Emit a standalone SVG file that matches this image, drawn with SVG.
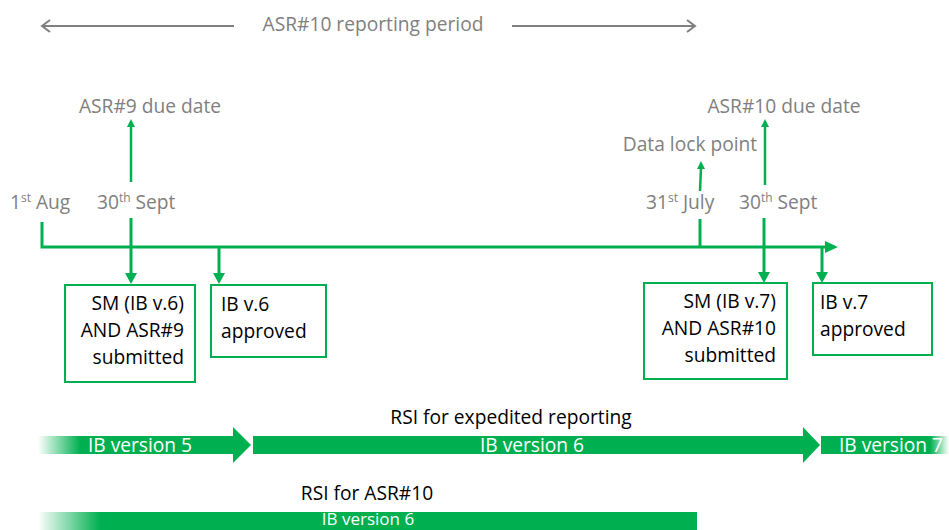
<svg xmlns="http://www.w3.org/2000/svg" width="949" height="530" viewBox="0 0 949 530">
<defs>
<style>
.g{font-family:"Open Sans","Liberation Sans",sans-serif;font-size:19.2px;fill:#808080}
.k{font-family:"Open Sans","Liberation Sans",sans-serif;font-size:19.2px;fill:#000}
.w{font-family:"Open Sans","Liberation Sans",sans-serif;font-size:19.2px;fill:#fff}
.sup{font-size:12px}
.ln{stroke:#00b050;stroke-width:3;fill:none}
.ln2{stroke:#00b050;stroke-width:2.5;fill:none}
.box{fill:#fff;stroke:#00b050;stroke-width:2}
.ah{fill:#00b050}
.gr{stroke:#808080;stroke-width:2;fill:none}
</style>
<linearGradient id="fadeIn1" gradientUnits="userSpaceOnUse" x1="38" y1="0" x2="80" y2="0">
<stop offset="0" stop-color="#00b050" stop-opacity="0"/>
<stop offset="1" stop-color="#00b050" stop-opacity="1"/>
</linearGradient>
<linearGradient id="fadeIn2" gradientUnits="userSpaceOnUse" x1="38" y1="0" x2="100" y2="0">
<stop offset="0" stop-color="#00b050" stop-opacity="0"/>
<stop offset="1" stop-color="#00b050" stop-opacity="1"/>
</linearGradient>
<linearGradient id="fadeOut" gradientUnits="userSpaceOnUse" x1="930" y1="0" x2="949" y2="0">
<stop offset="0" stop-color="#00b050" stop-opacity="1"/>
<stop offset="1" stop-color="#00b050" stop-opacity="0"/>
</linearGradient>
</defs>
<rect width="949" height="530" fill="#fff"/>

<g id="reporting-period">
<path class="gr" d="M234,26 H42 M50,20 L42,26 L50,32"/>
<path class="gr" d="M512,26 H695 M687,20 L695,26 L687,32"/>
<text class="g" x="373" y="31" text-anchor="middle">ASR#10 reporting period</text>
</g>

<g id="connectors">
<path class="ln" d="M42,222 V247 H826"/>
<polygon class="ah" points="825,241 838,247 825,253"/>
<line class="ln2" x1="131" y1="182" x2="131" y2="126"/>
<polygon class="ah" points="127,127 135,127 131,119"/>
<line class="ln" x1="131" y1="218" x2="131" y2="274"/>
<polygon class="ah" points="125,273 137,273 131,284"/>
<line class="ln" x1="219" y1="247" x2="219" y2="274"/>
<polygon class="ah" points="213,273 225,273 219,284"/>
<line class="ln" x1="700" y1="219" x2="700" y2="247"/>
<line class="ln2" x1="700" y1="191" x2="701" y2="168"/>
<polygon class="ah" points="697,169 705,169 701,161"/>
<line class="ln2" x1="765" y1="185" x2="765" y2="126"/>
<polygon class="ah" points="761,127 769,127 765,119"/>
<line class="ln" x1="764" y1="218" x2="764" y2="273"/>
<polygon class="ah" points="758,272 770,272 764,283"/>
<line class="ln" x1="822" y1="247" x2="822" y2="273"/>
<polygon class="ah" points="816,272 828,272 822,283"/>
</g>

<g id="labels">
<text class="g" x="150" y="113" text-anchor="middle">ASR#9 due date</text>
<text class="g" x="784" y="113" text-anchor="middle">ASR#10 due date</text>
<text class="g" x="690" y="151" text-anchor="middle">Data lock point</text>
<text class="g" x="10" y="209">1<tspan class="sup" dy="-7">st</tspan><tspan dy="7"> Aug</tspan></text>
<text class="g" x="97" y="209">30<tspan class="sup" dy="-7">th</tspan><tspan dy="7"> Sept</tspan></text>
<text class="g" x="646" y="209">31<tspan class="sup" dy="-7">st</tspan><tspan dy="7"> July</tspan></text>
<text class="g" x="739" y="209">30<tspan class="sup" dy="-7">th</tspan><tspan dy="7"> Sept</tspan></text>
</g>

<g id="box-sm-v6">
<rect class="box" x="65" y="285" width="130" height="97"/>
<text class="k" text-anchor="end"><tspan x="184" y="310">SM (IB v.6)</tspan><tspan x="184" y="337">AND ASR#9</tspan><tspan x="184" y="364">submitted</tspan></text>
</g>
<g id="box-ib-v6">
<rect class="box" x="211" y="285" width="115" height="72"/>
<text class="k"><tspan x="221" y="311">IB v.6</tspan><tspan x="221" y="338">approved</tspan></text>
</g>
<g id="box-sm-v7">
<rect class="box" x="644" y="283" width="143" height="96"/>
<text class="k" text-anchor="end"><tspan x="776" y="308">SM (IB v.7)</tspan><tspan x="776" y="335">AND ASR#10</tspan><tspan x="776" y="362">submitted</tspan></text>
</g>
<g id="box-ib-v7">
<rect class="box" x="813" y="283" width="119" height="72"/>
<text class="k"><tspan x="820" y="309">IB v.7</tspan><tspan x="820" y="336">approved</tspan></text>
</g>

<g id="rsi-expedited">
<text class="k" x="511" y="424" text-anchor="middle">RSI for expedited reporting</text>
<polygon fill="url(#fadeIn1)" points="38,436 233,436 233,427 251,445 233,463 233,454 38,454"/>
<polygon fill="#00b050" points="253,436 803,436 803,427 820,445 803,463 803,454 253,454"/>
<rect fill="url(#fadeOut)" x="821" y="436" width="128" height="18"/>
<text class="w" x="140" y="452" text-anchor="middle">IB version 5</text>
<text class="w" x="532" y="452" text-anchor="middle">IB version 6</text>
<text class="w" x="891" y="452" text-anchor="middle">IB version 7</text>
</g>

<g id="rsi-asr10">
<text class="k" x="367" y="500" text-anchor="middle">RSI for ASR#10</text>
<rect fill="url(#fadeIn2)" x="38" y="512" width="659" height="18"/>
<text class="w" x="368" y="525" text-anchor="middle" style="font-size:17px">IB version 6</text>
</g>
</svg>
